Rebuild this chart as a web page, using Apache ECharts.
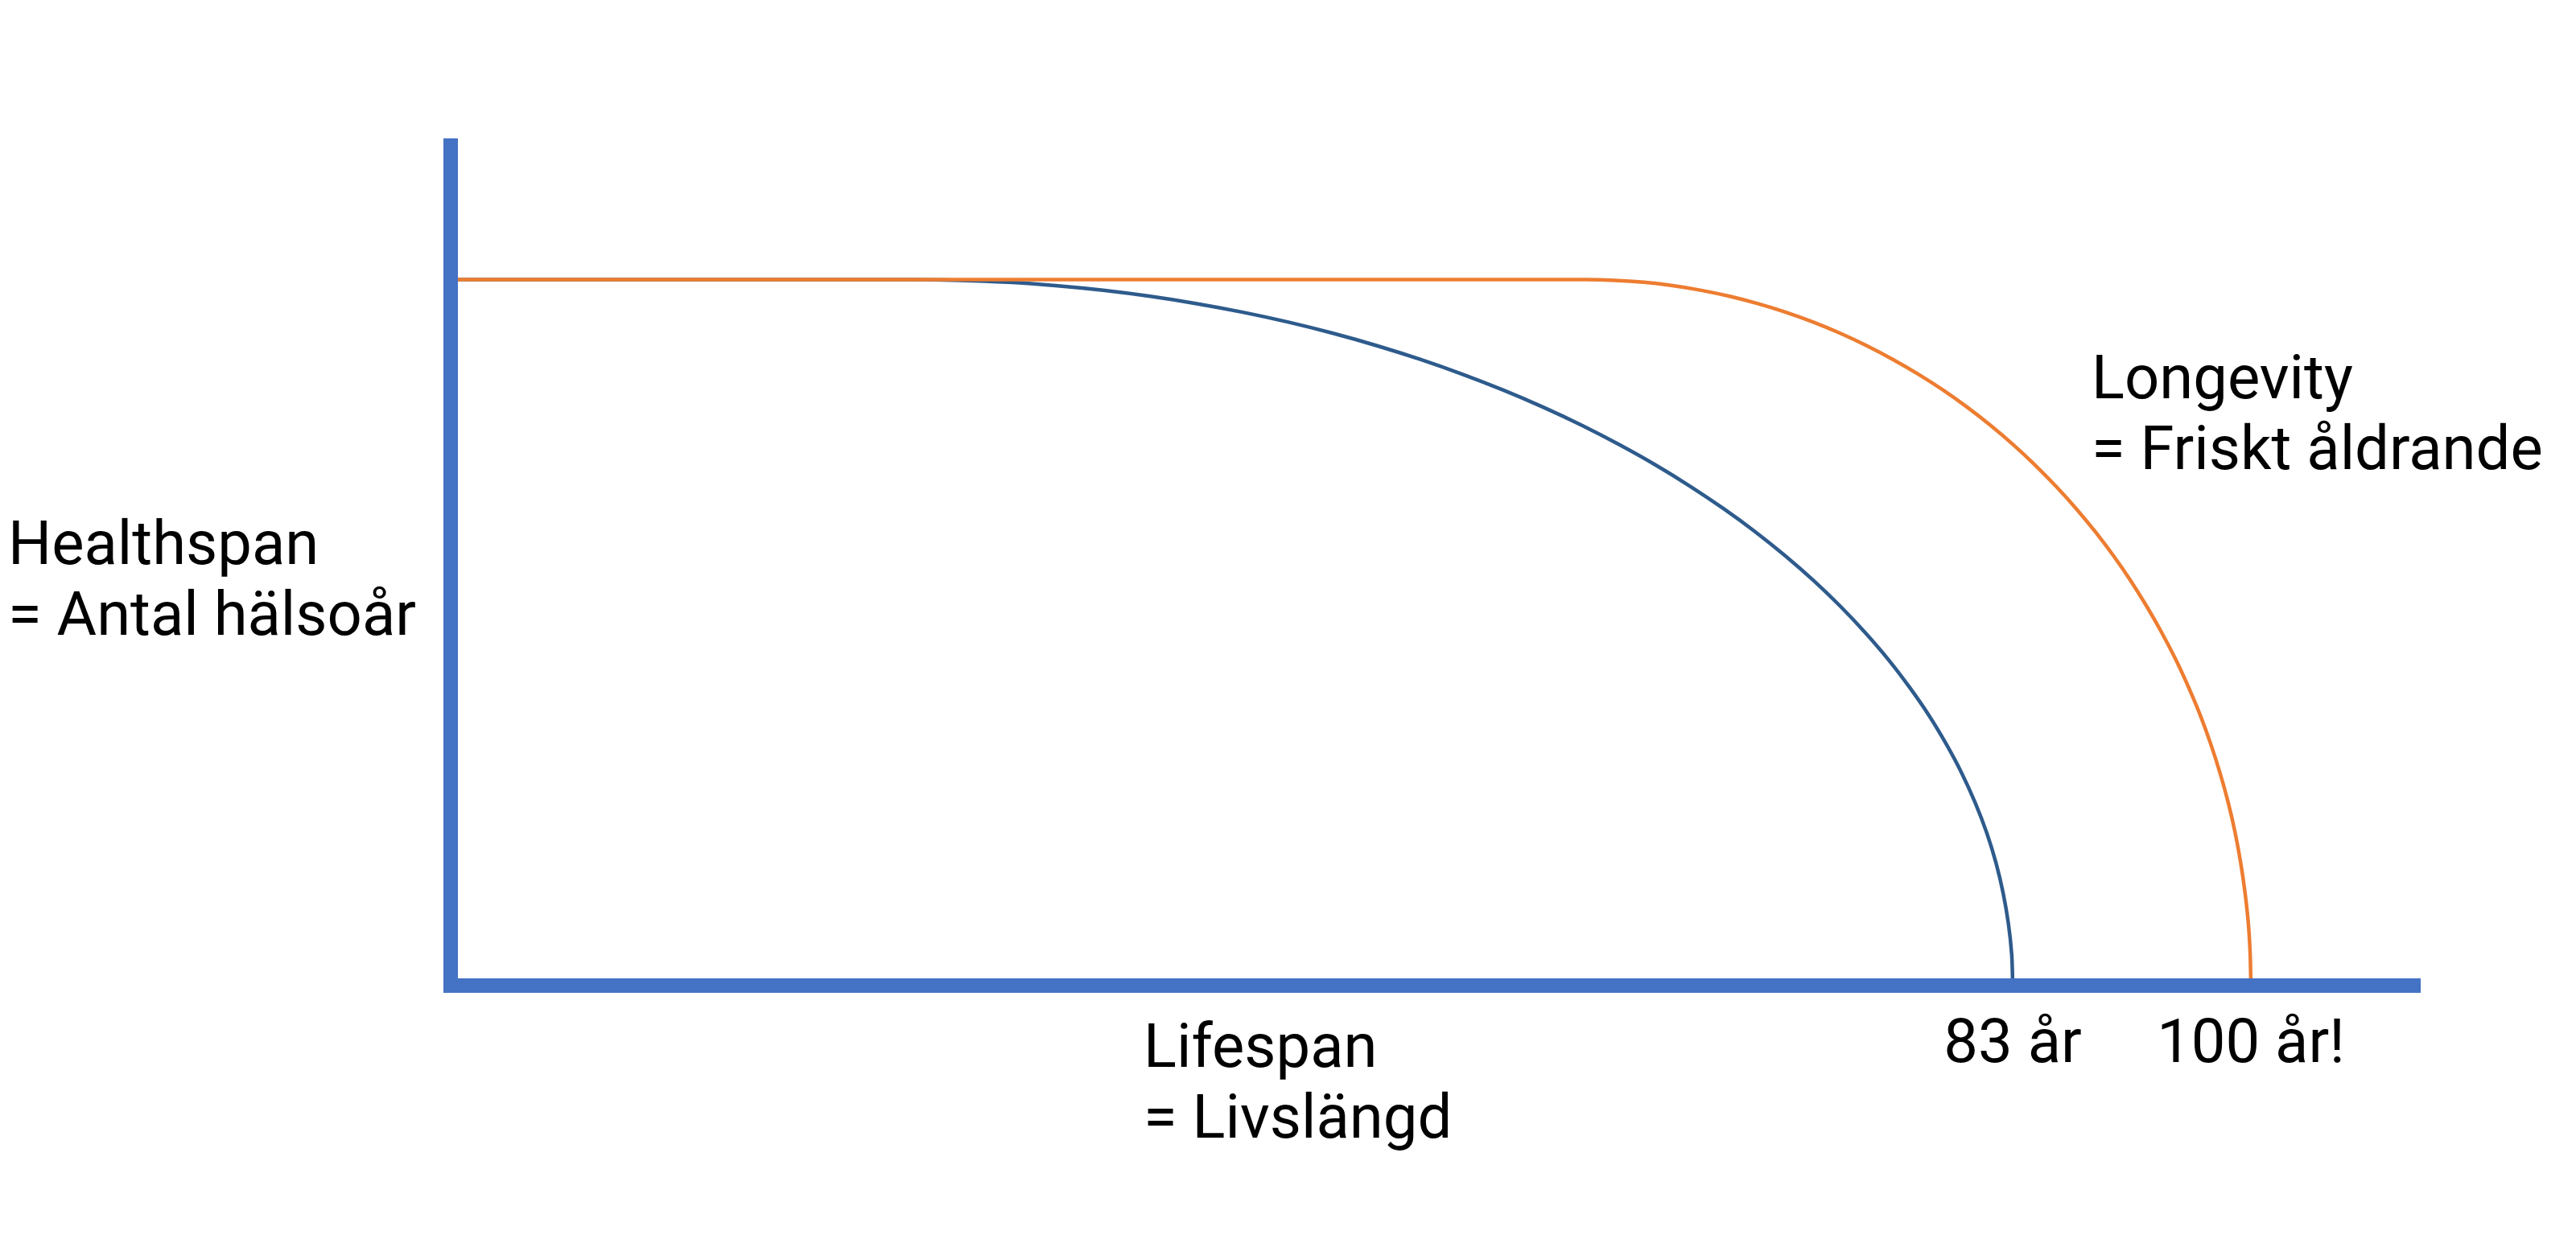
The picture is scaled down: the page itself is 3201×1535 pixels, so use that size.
<!DOCTYPE html>
<html>
<head>
<meta charset="utf-8">
<script src="https://cdn.jsdelivr.net/npm/echarts@6/dist/echarts.min.js"></script>
<style>
html,body{margin:0;padding:0;background:#fff;}
#chart{width:3201px;height:1535px;}
</style>
</head>
<body>
<div id="chart"></div>
<script>
// Lifespan curve (blue): x in axis units (0..120), y in health units (0..120)
var lifespanX = [0, 28.20, 31.14, 34.07, 36.98, 39.89, 42.77, 45.62, 48.44, 51.22, 53.95, 56.64, 59.28, 61.85, 64.36, 66.80, 69.17, 71.46, 73.67, 75.79, 77.82, 79.76, 81.59, 83.33, 84.96, 86.48, 87.90, 89.19, 90.38, 91.44, 92.39, 93.21, 93.91, 94.48, 94.92, 95.24, 95.44, 95.50];
var lifespanY = [100, 100, 99.90, 99.62, 99.14, 98.48, 97.63, 96.59, 95.37, 93.97, 92.39, 90.63, 88.70, 86.60, 84.34, 81.92, 79.34, 76.60, 73.73, 70.71, 67.56, 64.28, 60.88, 57.36, 53.73, 50.00, 46.17, 42.26, 38.27, 34.20, 30.07, 25.88, 21.64, 17.36, 13.05, 8.72, 4.36, 0];
// Longevity curve (orange)
var longevityX = [0, 69.40, 71.17, 72.94, 74.71, 76.46, 78.20, 79.92, 81.63, 83.31, 84.96, 86.58, 88.17, 89.73, 91.25, 92.72, 94.15, 95.54, 96.87, 98.15, 99.38, 100.55, 101.66, 102.71, 103.69, 104.61, 105.47, 106.25, 106.97, 107.61, 108.18, 108.68, 109.10, 109.44, 109.71, 109.91, 110.02, 110.06];
var longevityY = [100, 100, 99.90, 99.62, 99.14, 98.48, 97.63, 96.59, 95.37, 93.97, 92.39, 90.63, 88.70, 86.60, 84.34, 81.92, 79.34, 76.60, 73.73, 70.71, 67.56, 64.28, 60.88, 57.36, 53.73, 50.00, 46.17, 42.26, 38.27, 34.20, 30.07, 25.88, 21.64, 17.36, 13.05, 8.72, 4.36, 0];
// x-axis tick labels at the curve ends
var tickValues = [95.5, 110.06];
var tickLabels = ['83 år', '100 år!'];
// annotation texts
var yTitle = 'Healthspan\n= Antal hälsoår';
var xTitle = 'Lifespan\n= Livslängd';
var longevityTitle = 'Longevity\n= Friskt åldrande';

function pairs(xs, ys){ return xs.map(function(x,i){ return [x, ys[i]]; }); }

var FONT = 'Roboto, "Noto Sans", sans-serif';
var chart = echarts.init(document.getElementById('chart'), null, {renderer:'canvas'});
chart.setOption({
  backgroundColor: '#ffffff',
  animation: false,
  grid: {left: 560, right: 202, top: 172, bottom: 310, containLabel: false},
  xAxis: {
    type: 'value', min: 0, max: 120, z: 5,
    axisLine: {show: true, onZero: false, lineStyle: {color: '#4472C4', width: 18, cap: 'square'}},
    axisTick: {show: false},
    splitLine: {show: false},
    axisLabel: {
      show: true, customValues: tickValues, margin: 38,
      color: '#000', fontFamily: FONT, fontSize: 76,
      formatter: function(v){ var i = tickValues.indexOf(v); return i >= 0 ? tickLabels[i] : ''; }
    }
  },
  yAxis: {
    type: 'value', min: 0, max: 120, z: 5,
    axisLine: {show: true, onZero: false, lineStyle: {color: '#4472C4', width: 18, cap: 'butt'}},
    axisTick: {show: false},
    splitLine: {show: false},
    axisLabel: {show: false}
  },
  series: [
    {
      type: 'line', name: 'Lifespan', data: pairs(lifespanX, lifespanY),
      smooth: 0.25, showSymbol: false, symbol: 'none', z: 2,
      lineStyle: {color: '#2E5B8C', width: 4.5}
    },
    {
      type: 'line', name: 'Longevity', data: pairs(longevityX, longevityY),
      smooth: 0.25, showSymbol: false, symbol: 'none', z: 3,
      lineStyle: {color: '#ED7D31', width: 4.5}
    }
  ],
  graphic: [
    {type: 'text', left: 10, top: 638, style: {text: yTitle, fill: '#000', font: '76px ' + FONT, lineHeight: 88}},
    {type: 'text', left: 1421, top: 1263, style: {text: xTitle, fill: '#000', font: '76px ' + FONT, lineHeight: 88}},
    {type: 'text', left: 2599, top: 432, style: {text: longevityTitle, fill: '#000', font: '76px ' + FONT, lineHeight: 88}}
  ]
});
</script>
</body>
</html>
